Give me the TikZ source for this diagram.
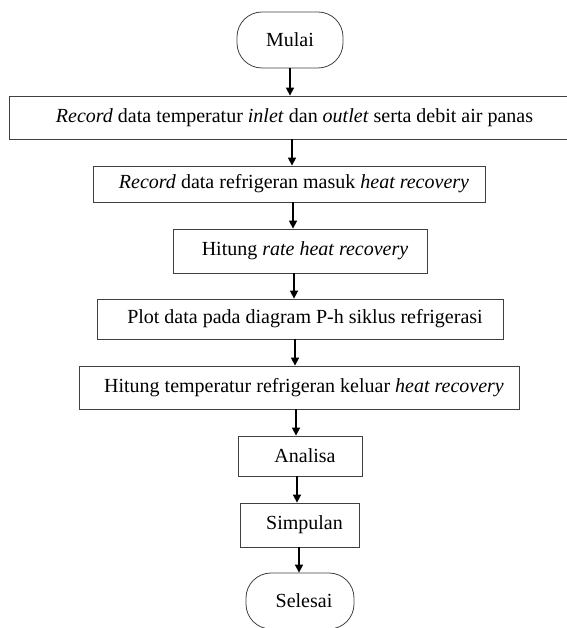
\documentclass[tikz,border=0pt]{standalone}
\usepackage{fontspec}
\setmainfont{Liberation Serif}
\usetikzlibrary{arrows.meta}
\definecolor{box-line}{HTML}{404040}

\begin{document}
\begin{tikzpicture}[x=1pt, y=-1pt, every node/.style={font=\fontsize{20}{23}\selectfont},
    >={Triangle[length=8pt, width=8pt]}]
    \useasboundingbox (0,0) rectangle (566,628);
    \tikzset{box/.style={draw=box-line, line width=0.8pt, inner sep=0pt},
      ends/.style={box, rounded corners=25pt, minimum width=106pt, minimum height=56pt}}
    \node[ends] (mulai) at (290, 40) {Mulai};
    \foreach \n/\cx/\cy/\w/\h/\t in {
      rec1/289.5/117.5/561/43/{\textit{Record} data temperatur \textit{inlet} dan \textit{outlet} serta debit air panas},
      rec2/289/184/392/36/{\textit{Record} data refrigeran masuk \textit{heat recovery}},
      rate/300/251/254/44/{Hitung \textit{rate heat recovery}},
      plot/300/319/406/40/{Plot data pada diagram P-h siklus refrigerasi},
      suhu/299/387.5/440/43/{Hitung temperatur refrigeran keluar \textit{heat recovery}},
      analisa/300/456/124/40/{Analisa},
      simpulan/299.5/525/119/44/{Simpulan}} {
      \node[box, minimum width=\w pt, minimum height=\h pt] (\n) at (\cx, \cy) {\hspace*{10pt}\t};
    }
    \node[ends, minimum width=108pt] (selesai) at (300, 601) {\hspace*{8pt}Selesai};
    \foreach \a/\b/\x in {mulai/rec1/290, rec1/rec2/292, rec2/rate/293, rate/plot/294,
      plot/suhu/295, suhu/analisa/296, analisa/simpulan/297, simpulan/selesai/299} {
      \draw[->, line width=1.6pt] (\a.south -| \x,0) -- (\b.north -| \x,0);
    }
  \end{tikzpicture}
\end{document}
